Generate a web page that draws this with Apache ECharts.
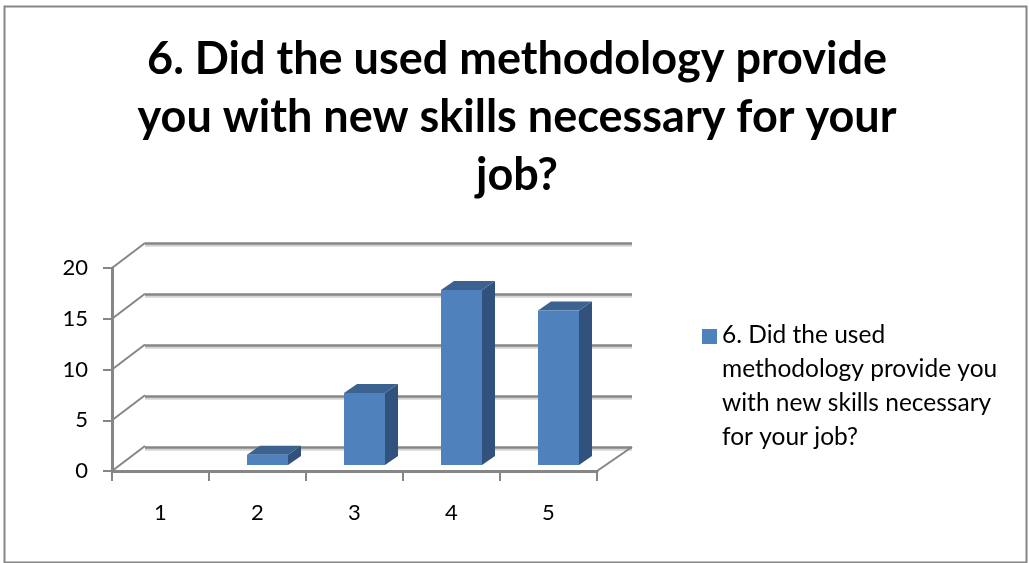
<!DOCTYPE html>
<html>
<head>
<meta charset="utf-8">
<style>
  html, body { margin: 0; padding: 0; background: #fff; }
  #chart-container { width: 1029px; height: 563px; }
</style>
<script src="https://cdn.jsdelivr.net/npm/echarts@6/dist/echarts.min.js"></script>
</head>
<body>
<div id="chart-container"></div>
<script>
const titleLines = [
  "6. Did the used methodology provide",
  "you with new skills necessary for your",
  "job?"
];
const legendLines = [
  "6. Did the used",
  "methodology provide you",
  "with new skills necessary",
  "for your job?"
];
const categories = ["1", "2", "3", "4", "5"];
const values = [0, 1, 7, 17, 15];
const ticks = [0, 5, 10, 15, 20];

const axisGrey = "#868686";
const font = "Lato";

// the 3D look: back wall is a second grid, bars sit in a third one between the two
const grids = [
  { left: 112, top: 268, width: 485, height: 203 },
  { left: 145, top: 243, width: 487, height: 204 },
  { left: 122, top: 259, width: 485, height: 206 }
];

function renderBar(params, api) {
  const cat = api.value(0);
  const val = api.value(1);
  if (!val) return null;
  const top = api.coord([cat, val]);
  const base = api.coord([cat, 0]);
  const w = 41, dx = 13, dy = 9;
  const x0 = top[0] - w / 2, x1 = top[0] + w / 2;
  return {
    type: "group",
    children: [
      { type: "polygon", shape: { points: [[x1, top[1]], [x1 + dx, top[1] - dy], [x1 + dx, base[1] - dy], [x1, base[1]]] }, style: { fill: "#31527c" } },
      { type: "polygon", shape: { points: [[x0, top[1]], [x0 + dx, top[1] - dy], [x1 + dx, top[1] - dy], [x1, top[1]]] }, style: { fill: "#3c628f" } },
      { type: "rect", shape: { x: x0, y: top[1], width: w, height: base[1] - top[1] }, style: { fill: "#4f81bd" } }
    ]
  };
}

// slanted lines joining the front axis to the back wall
function renderSlant(params, api) {
  const p = api.coord([0, api.value(0)]);
  const half = api.size([1, 0])[0] / 2;
  return {
    type: "line",
    shape: { x1: p[0] - half, y1: p[1], x2: p[0] - half + 33, y2: p[1] - 25 },
    style: { stroke: axisGrey, lineWidth: 2 }
  };
}

function renderFloorEnd(params, api) {
  const p = api.coord([categories.length - 1, 0]);
  const half = api.size([1, 0])[0] / 2;
  return {
    type: "line",
    shape: { x1: p[0] + half, y1: p[1], x2: p[0] + half + 35, y2: p[1] - 24 },
    style: { stroke: axisGrey, lineWidth: 2 }
  };
}

const chart = echarts.init(document.getElementById("chart-container"), null, { renderer: "canvas" });

chart.setOption({
  animation: false,
  backgroundColor: "#fff",
  title: [
    {
      text: titleLines.join("\n"),
      left: 517, top: 30, padding: 0, textAlign: "center",
      textStyle: { fontFamily: font, fontWeight: "bold", fontSize: 45, lineHeight: 58, color: "#000" }
    },
    {
      text: legendLines.join("\n"),
      left: 722, top: 318, padding: 0,
      textStyle: { fontFamily: font, fontWeight: "normal", fontSize: 24.5, lineHeight: 34, color: "#000" }
    }
  ],
  grid: grids,
  xAxis: [
    {
      gridIndex: 0, type: "category", data: categories, boundaryGap: true,
      axisLine: { lineStyle: { color: axisGrey, width: 3 } },
      axisTick: { show: true, alignWithLabel: false, length: 10, lineStyle: { color: axisGrey, width: 2 } },
      axisLabel: { fontFamily: font, fontSize: 22, color: "#000", margin: 31 }
    },
    { gridIndex: 1, type: "category", data: categories, show: false },
    { gridIndex: 2, type: "category", data: categories, show: false }
  ],
  yAxis: [
    {
      gridIndex: 0, type: "value", min: 0, max: 20, interval: 5,
      axisLine: { show: true, lineStyle: { color: axisGrey, width: 3 } },
      axisTick: { show: true, length: 9, lineStyle: { color: axisGrey, width: 2 } },
      axisLabel: { fontFamily: font, fontSize: 22, color: "#000", margin: 24 },
      splitLine: { show: false }
    },
    {
      gridIndex: 1, type: "value", min: 0, max: 20, interval: 5,
      axisLine: { show: false }, axisTick: { show: false }, axisLabel: { show: false },
      splitLine: {
        show: true,
        lineStyle: { color: axisGrey, width: 2.5, shadowColor: "#d4d4d4", shadowOffsetY: 2 }
      }
    },
    {
      gridIndex: 2, type: "value", min: 0, max: 20, interval: 5, show: false,
      splitLine: { show: false }
    }
  ],
  series: [
    {
      type: "custom", xAxisIndex: 0, yAxisIndex: 0, silent: true, z: 1,
      renderItem: renderSlant, data: ticks.map((t) => [t]), clip: false
    },
    {
      type: "custom", xAxisIndex: 0, yAxisIndex: 0, silent: true, z: 1,
      renderItem: renderFloorEnd, data: [[0]], clip: false
    },
    {
      type: "custom", name: "6. Did the used methodology provide you with new skills necessary for your job?",
      xAxisIndex: 2, yAxisIndex: 2, z: 3,
      renderItem: renderBar, clip: false,
      encode: { x: 0, y: 1 },
      data: values.map((v, i) => [i, v])
    }
  ],
  graphic: [
    { type: "rect", silent: true, z: -1, shape: { x: 4.5, y: 6.5, width: 1022, height: 556 }, style: { fill: null, stroke: axisGrey, lineWidth: 2 } },
    { type: "rect", silent: true, shape: { x: 702, y: 329, width: 15, height: 15 }, style: { fill: "#4f81bd" } }
  ]
});
</script>
</body>
</html>
